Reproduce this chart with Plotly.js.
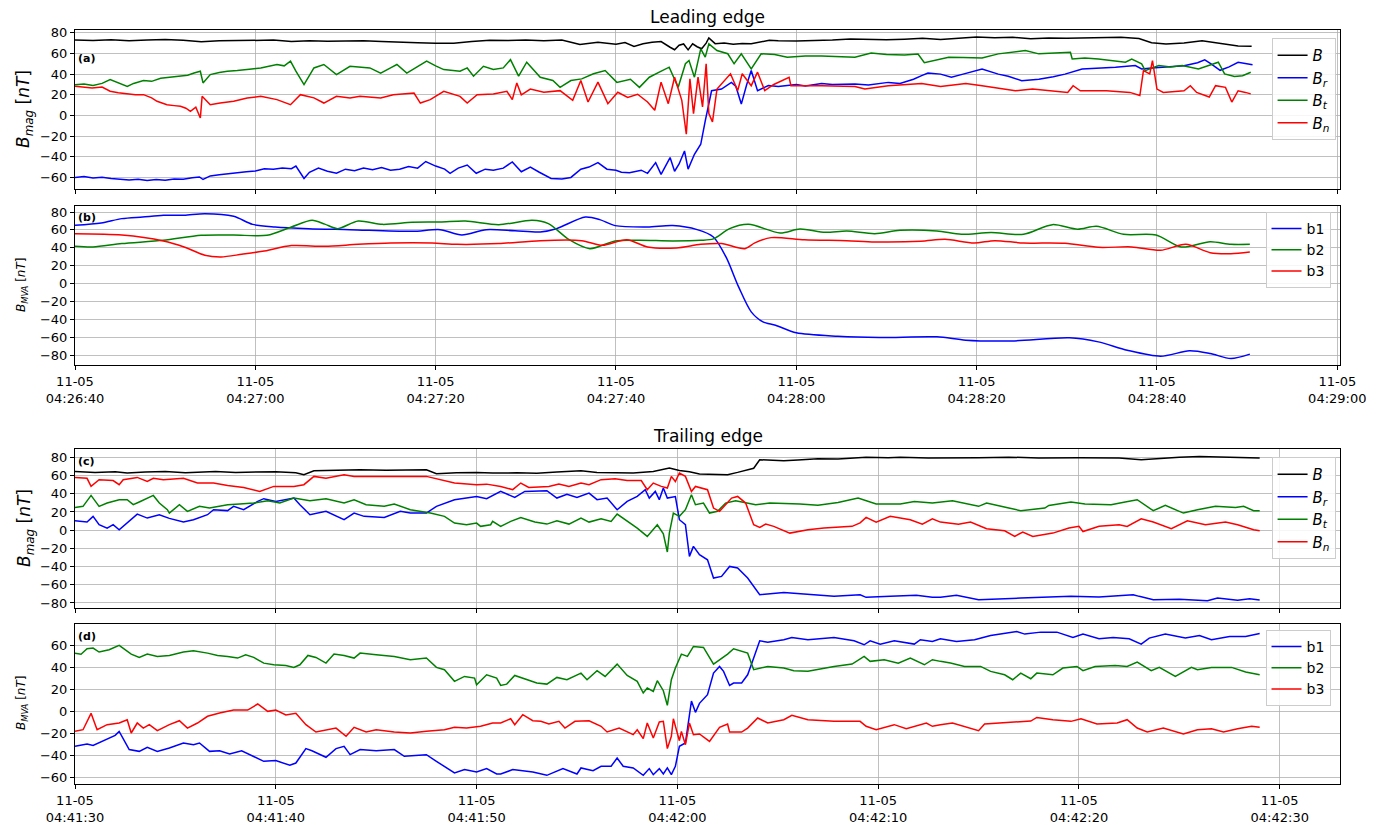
<!DOCTYPE html>
<html><head><meta charset="utf-8">
<script src="https://cdn.plot.ly/plotly-3.0.1.min.js"></script>
<style>html,body{margin:0;padding:0;background:#fff}#chart{width:1387px;height:825px}</style>
</head><body><div id="chart"></div>
<script>
// ---------- tick labels ----------
const leadTickVals = [0, 20, 40, 60, 80, 100, 120, 140];
const leadTickText = ["11-05<br>04:26:40","11-05<br>04:27:00","11-05<br>04:27:20","11-05<br>04:27:40","11-05<br>04:28:00","11-05<br>04:28:20","11-05<br>04:28:40","11-05<br>04:29:00"];
const trailTickVals = [0, 10, 20, 30, 40, 50, 60];
const trailTickText = ["11-05<br>04:41:30","11-05<br>04:41:40","11-05<br>04:41:50","11-05<br>04:42:00","11-05<br>04:42:10","11-05<br>04:42:20","11-05<br>04:42:30"];
const seriesNames = ["<i>B</i>", "<i>B<sub>r</sub></i>", "<i>B<sub>t</sub></i>", "<i>B<sub>n</sub></i>"];
const mvaNames = ["b1", "b2", "b3"];

// ---------- (a) leading edge, [seconds after 04:26:40, nT] ----------
const leadB = [[0,72.9],[2,72.5],[4,73.2],[6,72.4],[8,73.0],[10,73.4],[12,72.8],[14,71.3],[16,72.2],[18,72.6],[20,72.4],[22,72.9],[24,71.5],[26,72.2],[28,71.7],[30,71.9],[32,72.4],[34,71.6],[36,71.3],[38,70.4],[40,69.8],[42,69.9],[44,71.6],[46,72.8],[48,72.5],[50,73.1],[52,72.4],[54,73.0],[56,68.7],[58,70.8],[60,69.0],[61,70.5],[62,66.7],[63,69.3],[64,70.8],[65,71.5],[66,66.0],[66.5,63.6],[67,68.0],[67.5,69.2],[68,63.5],[68.5,69.3],[69,66.5],[69.5,64.5],[70,70.0],[70.3,75.1],[71,69.5],[72,70.1],[73,69.0],[74,69.7],[75,69.3],[76,71.0],[77,72.8],[78,72.2],[80,72.0],[82,72.6],[84,72.9],[86,74.1],[88,73.6],[90,73.2],[92,73.8],[94,74.6],[96,73.5],[98,74.8],[100,76.0],[102,75.2],[104,75.6],[106,74.2],[108,75.0],[110,74.8],[112,75.3],[114,75.5],[116,75.7],[118,74.4],[119.4,70.3],[121,69.2],[123,70.1],[125,72.3],[127,70.0],[129,67.2],[130.5,67.0]];
const leadBr = [[0,-60],[1,-59.2],[2,-60.5],[3,-59.8],[4,-61],[5,-61.5],[6,-62.5],[7,-61.8],[8,-63],[9,-62],[10,-62.8],[11,-61.5],[12,-61.8],[13,-60.2],[13.8,-59.5],[14.2,-62],[15,-58.5],[16,-57.5],[17,-56.8],[18,-55.5],[19,-54.5],[20,-53.8],[21,-51.5],[22,-52],[23,-50.8],[24,-51.5],[24.5,-49],[25.4,-61],[26,-55],[27,-51],[28,-54],[29,-56],[30,-52],[31,-53.5],[32,-51],[33,-52.5],[34,-50.5],[35,-53],[36,-52],[37,-49.5],[38,-51],[38.9,-44.6],[40,-49],[41,-52],[41.6,-56],[42.5,-51],[43.5,-48],[44.5,-56],[45.5,-52],[46.4,-53],[47.5,-51],[48.5,-45],[49.5,-54.5],[50.5,-50],[51.5,-55],[52.8,-61],[54,-61.5],[55,-60],[56.1,-52],[57,-50],[58,-45.7],[59,-52],[60,-53],[60.6,-55],[61.5,-55.5],[62.8,-53],[63.5,-56],[64.4,-45.7],[65,-57],[66,-40.8],[66.5,-54],[67,-47],[67.6,-34.4],[68,-52],[68.7,-37.6],[69.4,-27.9],[69.9,-5.2],[70.6,23.9],[71.7,25.5],[72.8,32],[73.3,28],[73.9,11],[74.5,30],[75,43.4],[75.7,24],[76.9,29],[78,28],[79,28.8],[80,30],[81,28.5],[82.8,31],[84,30],[86.5,30.5],[88,29.5],[90.2,32],[91.5,31],[93,35],[93.9,38.5],[94.6,41],[96,40],[97.2,37],[98.5,40],[100.6,45],[102.4,40],[103.5,38],[105,33.6],[106.9,35],[108.5,37.5],[109.8,40],[111.7,45],[113.5,45.5],[115.4,46.7],[117.6,48.3],[118.3,45],[119.4,46],[121,47],[123,48],[124.5,51],[125.3,53.8],[126,50],[127,43.7],[128,47],[129,51.5],[130.6,49]];
const leadBt = [[0,29.8],[1,30.5],[2,29],[3,31],[3.9,34.7],[5,31],[5.8,28],[6.5,31],[7.6,33.7],[8.5,33],[9.5,36],[10.5,37],[11.7,38],[12.5,39],[13.2,41],[13.9,42.8],[14.2,31.5],[15,39.5],[16,41.5],[16.9,42.8],[18,43.5],[18.7,44.4],[19.6,45],[20.6,46],[21.5,47.5],[22.4,49.3],[23.2,48],[23.9,52.5],[24.5,42.8],[25.4,29.8],[26.5,46],[27.6,49.3],[29,39.5],[30.5,47.6],[32.7,46],[33.9,41],[35,46],[35.7,49.3],[36.8,41],[38,47],[39,52.5],[40,48],[40.9,44.4],[42.7,42.8],[43.5,46],[44.2,38],[45.3,47.6],[46.4,44.4],[47.5,46],[48.3,54],[49.2,38],[50.1,51.5],[51.6,37],[53,33.8],[53.8,27.2],[55,33.8],[56.2,35.4],[57.5,40.3],[58.8,43.5],[60.1,32],[61.6,35],[62.6,27.2],[63.7,37],[64.8,41.9],[65.9,46.7],[66.9,27.2],[67.7,50],[68.1,53.2],[68.7,37],[69.4,64.5],[69.9,56.4],[70.3,69.3],[71.2,62.9],[72.4,59.7],[73.1,50],[73.9,59.7],[75,45.1],[76.1,59.7],[77.6,59],[79,56.4],[81,57.5],[82.8,57.5],[85,57],[86.5,56.4],[88.3,60.4],[90,59],[92,58.5],[93.5,59.5],[94.2,51],[95,52.5],[96.9,56.4],[98.5,56],[100.6,55.5],[102.4,59.6],[104,61],[105.4,62.8],[106.9,59.6],[108.5,60],[110.4,61.1],[110.6,54.7],[112,55.5],[113.5,54.7],[115,53],[116.5,51.5],[117.2,54.5],[118.3,49.9],[118.7,43.4],[120.2,48.3],[121.5,47],[122.8,48.3],[124.6,45],[125.7,48.3],[126.8,51.5],[127.5,40.2],[128.6,37.6],[129.5,38.5],[130.4,41.8]];
const leadBn = [[0,28.2],[1,27.5],[1.9,26.6],[3,27.5],[3.9,23.4],[4.8,22],[5.8,20.8],[6.7,20],[7.6,20.1],[8.5,17],[9.1,13.7],[9.8,12],[10.2,10.4],[11,9.5],[11.7,8.8],[12.3,7],[12.8,4],[13.4,8],[13.9,-2.5],[14.1,18.5],[15,10.4],[16.1,12],[17.6,13.7],[19.1,16.9],[20.6,18.5],[22.4,15.3],[23.9,10.4],[25,20.1],[26.5,17],[27.6,12],[29,18.5],[30.5,17],[31.6,18.5],[33.9,16.9],[35.3,20.1],[37.6,21.7],[38.3,12],[39.4,15.3],[40.9,23.4],[42.7,18.5],[43.5,12],[44.6,20.1],[46.4,20.8],[47.9,23.4],[48.5,15.3],[49,31.5],[49.5,20],[50.5,25.5],[52,22.4],[53.8,24],[55.2,14.6],[56.1,33.8],[56.9,13],[58,32.2],[59.1,11.4],[60.2,22.4],[61.3,17.5],[62.4,20.5],[63.5,13],[64.3,5],[65,32.2],[65.8,11.4],[66.5,37],[67.3,14.6],[67.8,-18.2],[68.2,35.4],[68.6,1.8],[69.1,37],[69.6,8.2],[70,49.9],[70.3,1.8],[70.7,-6.2],[71.2,25.5],[72.7,40.3],[73.5,24],[74,40.3],[75,28.8],[75.7,41.9],[76.5,24],[77.5,30],[79.2,37],[79.4,28.8],[82.8,28.8],[86.5,28],[87.6,25.5],[90.2,28.8],[93.9,31],[96,28],[98.8,31],[100.6,28.8],[104.3,23.9],[106.2,25.5],[110.1,22.3],[110.7,28.8],[111.5,23.9],[114.4,23.9],[117,22.3],[118.1,19.3],[118.5,43.4],[119.2,40.2],[119.5,53],[120,25.5],[120.7,22.3],[123,23.9],[123.7,28.8],[124.4,22.3],[125.8,17.8],[126.5,28.8],[127.6,27.2],[128.3,13],[129,23.9],[129.8,22.3],[130.4,20.9]];

// ---------- (b) leading edge MVA ----------
const leadB1 = [[0,65.1],[2.9,67.7],[5.2,72.6],[7.5,74.4],[9.8,76.3],[12.1,76.3],[14.4,78.1],[17.6,75.2],[19.7,66.2],[22.2,63.3],[25.9,61.4],[30.5,60.3],[37.4,58.4],[40.5,60.3],[42.9,54.3],[45.6,60.3],[48.8,59],[51.6,57.7],[53.4,61.4],[56.6,74.4],[58.2,71.5],[59.9,64.8],[63.5,63.3],[66.3,64.8],[69,60.3],[70.8,52.1],[72.2,29.8],[73.6,-3.6],[75,-31.5],[76.3,-42.7],[77.7,-46.4],[80,-54.9],[84.6,-58.7],[89.2,-60.1],[95.6,-59.4],[98.8,-63.1],[103.9,-63.9],[110.3,-60.5],[113.5,-65],[116.7,-74.3],[120.4,-81],[123.6,-75],[125.9,-78],[128.2,-83.6],[130.3,-78.7]];
const leadB2 = [[0,41.7],[2,41],[5.2,44.7],[9.8,48.4],[14,54],[17.6,54.3],[21.3,54],[24,63.3],[26.3,70.7],[27.7,66.5],[29.1,61.4],[31.4,70],[34.1,66.2],[37.4,68.5],[40.5,68.8],[43.3,70],[47,65.9],[50.7,70.7],[52.5,67],[54.8,49.1],[57.1,39.1],[59.9,47.7],[62.6,48.4],[66.3,47.7],[69.4,48.4],[70.8,50],[72.6,61.4],[74.7,66.2],[78.2,56.6],[80.4,61],[83.2,57.3],[85.6,58.8],[88.7,55.8],[91.5,59.6],[95.6,58.8],[98.3,55.1],[101.6,57],[105.2,55.1],[108.4,65.9],[111.2,60.7],[113.3,64],[116.3,55.1],[119.9,54.3],[122.7,41],[125.9,46.9],[128.2,43.9],[130.3,43.9]];
const leadB3 = [[0,55.8],[5.2,54.3],[9.8,47.7],[12.1,41],[14.4,31.7],[16.2,29.8],[18.5,32.8],[20.8,36.1],[24,42.5],[27.7,41.7],[31.4,43.9],[35,45.4],[39.6,45.4],[42.4,43.9],[47,44.7],[51.6,48],[56.2,48],[58.5,42.8],[61.2,49.1],[63.5,41],[66.7,39.9],[69.4,43.9],[71.7,44.7],[74.3,39.1],[75.4,45.5],[77.2,51.4],[80.9,49.1],[85.6,48],[88.7,46.6],[93.8,47.3],[96.5,49.5],[99.7,45.4],[102,48],[105.2,45.4],[109.8,45],[113.5,40.6],[117.2,41],[120.4,37.3],[123.2,43.9],[125.9,34.6],[128.2,33.5],[130.3,35.4]];

// ---------- (c) trailing edge, [seconds after 04:41:30, nT] ----------
const trailB = [[0,64.6],[1,63.5],[2,64.2],[2.6,62.8],[3.5,63.8],[4.5,64.4],[5.5,63.2],[6.2,63.9],[7,64.5],[8,63.5],[9.2,63.9],[10,64.2],[11,63],[11.4,61],[11.9,65.3],[13,65.6],[14.2,66.4],[15.5,65.8],[16.5,66.2],[17.5,66.4],[18,62],[19,63.2],[20,63.5],[20.8,62.8],[22,63],[23,62.5],[24,64],[25.2,65.3],[26,63.5],[27,63],[27.8,62.8],[28.8,64.5],[29.6,68.3],[30.1,65.5],[30.6,64.2],[31.1,61.7],[32,61.5],[32.5,61],[33,63.5],[33.5,66.4],[33.8,68],[34.1,77.4],[35.3,76.3],[36,77.2],[37,78.5],[38,78.2],[39.4,80],[40.5,79.5],[41.1,80],[42.5,79.4],[43.6,79.3],[45,79.5],[46.5,80.2],[48,79.4],[50,79.5],[52,79.2],[53.1,77.4],[54,79],[55,80.2],[56,81],[57,80.2],[58,79.5],[59,79.3]];
const trailBr = [[0,10.4],[0.6,9],[0.9,15.2],[1.2,6],[1.6,2.3],[1.9,6],[2.2,0.5],[2.6,7.8],[3.1,17.7],[3.6,13.3],[4.2,17],[4.7,13],[5.4,8.9],[5.9,11.5],[6.6,17],[6.9,22.5],[7.6,21.5],[7.9,26.2],[8.4,22.5],[9.1,31.6],[9.4,34.6],[10,31.6],[10.9,35.3],[11.2,28],[11.7,17],[12.5,20.7],[13.4,11.5],[13.9,18.8],[14.4,15.2],[15.4,14],[16.2,20.7],[16.7,18.8],[17.5,18.8],[18,26.2],[18.9,33.5],[20,37.1],[20.5,34.6],[21.2,42.6],[21.9,36],[22.4,42.6],[23.5,43.4],[24,35.3],[24.5,39.5],[25,36],[25.6,40.8],[26,33.5],[26.5,35.3],[27,22.5],[27.5,31.6],[28,37.1],[28.4,44.5],[28.6,35.3],[28.9,42.6],[29.1,33.5],[29.3,46.3],[29.5,35.3],[29.9,37],[30.1,11.5],[30.4,6],[30.6,-28.8],[30.8,-17.8],[31.1,-27],[31.5,-32.5],[31.8,-52.6],[32.2,-50.8],[32.6,-39.8],[33,-41.6],[33.5,-52.6],[34,-67.3],[34.1,-70.9],[35.3,-68.4],[37,-70.9],[37.8,-72.7],[39.1,-70.9],[39.4,-73.8],[40.6,-72.7],[41.9,-71.6],[42.7,-73.8],[43.1,-73.8],[43.9,-71.6],[45,-76.4],[47.1,-74.6],[49.6,-72.7],[51,-73.5],[52.7,-70.9],[53,-72.7],[53.7,-76.4],[55,-76],[56.4,-77.5],[56.9,-74.6],[57.9,-77.1],[58.5,-75.3],[59,-76.8]];
const trailBt = [[0,25],[0.4,26.2],[0.8,38.2],[1.2,26.2],[1.6,29.8],[2.2,33.5],[2.6,33.5],[2.9,28],[3.2,31],[3.7,36],[3.9,38.2],[4.2,29.8],[4.6,22.5],[4.7,18.8],[5.2,28],[5.6,20.7],[6.2,26.2],[6.7,24.3],[7.6,28],[8.2,28.8],[8.9,29.8],[9.6,32.4],[10.2,29.8],[10.9,35.3],[11.7,32.4],[12.5,34.6],[13.4,29.8],[13.9,33.5],[14.5,28],[15.4,26.2],[15.9,28.8],[16.7,22.5],[17.2,20.7],[17.7,18.8],[18.4,15.2],[18.9,7.8],[19.5,6],[20,7.8],[20.2,4.2],[20.7,6],[20.8,9.7],[21.2,4.2],[21.7,9.7],[22.2,14],[22.9,8.9],[23.5,6.7],[24,10.4],[24.6,6.7],[25.2,13.3],[25.6,8.9],[26.2,12.6],[26.7,9.7],[27,17.7],[27.5,9.7],[28,2.3],[28.5,-6.8],[28.8,0.5],[29,6],[29.3,-4],[29.5,-24],[29.6,-3.2],[29.8,18.8],[30.1,15.2],[30.4,22.5],[30.7,39],[30.9,28],[31.3,29.8],[31.6,18.8],[32,20.7],[32.4,29.8],[32.9,32.4],[33.4,29.8],[33.9,28],[34.6,29.8],[36.1,28.8],[37,27.3],[38,30.5],[39,35.3],[39.9,28.8],[41.1,28.8],[41.8,31.6],[42.7,29.8],[43.1,31],[43.7,32.4],[45,26.2],[45.4,29.8],[47.1,21.4],[48.3,24.3],[48.5,27.2],[49.6,31],[50.3,28.8],[51.6,28],[52.3,31],[52.9,33.5],[53.7,21.4],[54.3,27.2],[55.2,18.8],[55.9,22.5],[56.8,26.2],[57.8,25],[58.2,26.2],[58.7,21.4],[59,21.4]];
const trailBn = [[0,58],[0.6,57],[0.8,48.1],[1.2,55.5],[1.9,54.5],[2.2,50],[2.4,55.5],[3.1,58],[3.6,53.5],[3.9,57],[4.4,55.5],[5.4,57],[6.1,51.8],[6.9,51.8],[7.6,49.2],[8.4,47],[9.2,42.6],[9.9,48.1],[10.9,48.1],[11.4,50],[11.9,59.1],[12.5,57],[13.4,61],[13.9,59.1],[15,59.1],[16.7,59.1],[17.5,59.1],[18.9,51.8],[20,50],[20.5,50.6],[21.2,48.1],[21.8,44.5],[22.2,51.8],[22.6,47],[23.6,48.1],[24.1,50.6],[24.6,48.1],[25.2,51.8],[25.6,50],[26.2,55.5],[26.9,56.6],[27.5,54.5],[28.2,54.5],[28.5,44.5],[28.8,51.8],[29.2,48.1],[29.5,46.3],[29.7,59.1],[29.9,53.5],[30.1,62.8],[30.4,59.1],[30.7,42.6],[30.9,48.1],[31.5,44.5],[31.8,24.3],[32.1,20.7],[32.4,28],[32.7,35.3],[33,37.1],[33.4,29.8],[33.8,6],[34.1,3.1],[34.4,6.7],[34.8,4.2],[35.6,-3.2],[36.5,0.5],[37.3,2.3],[38.7,4.2],[39.1,8],[39.4,14],[39.9,8.9],[40.6,15.2],[41.6,11.5],[42.2,6.7],[42.7,12.6],[43.1,8.9],[44,6.5],[44.6,8.9],[45.4,1.6],[46.3,-0.6],[46.8,-6.8],[47.2,-2],[47.7,-6.8],[48.7,-3.2],[49.5,2.3],[50,4.2],[50.2,-1.5],[51,4.2],[52,6],[52.4,4.2],[53.1,12.6],[53.7,8.9],[54.6,1.6],[55.4,10.4],[56.3,6],[57.3,8.9],[57.9,6],[58.7,0.5],[59,-0.6]];

// ---------- (d) trailing edge MVA ----------
const trailB1 = [[0,-31.8],[0.6,-29.7],[0.9,-31],[1.4,-26.7],[1.7,-24.2],[2,-21.8],[2.2,-18.2],[2.7,-34.8],[3.2,-36.4],[3.6,-32.8],[4.1,-36.4],[4.7,-33.3],[5.4,-28.8],[5.9,-30.3],[6.2,-28.8],[6.7,-36.4],[7.2,-35.8],[7.7,-38.8],[8.3,-35.8],[8.9,-40.9],[9.4,-45.5],[10,-44.8],[10.7,-49.1],[11,-47],[11.5,-33.9],[11.8,-35.8],[12.5,-41.8],[13,-33.9],[13.4,-31.8],[13.7,-39.4],[14.2,-34.8],[15,-35.8],[15.9,-34.8],[16.4,-40.9],[17,-40],[17.5,-39.4],[18,-45.5],[18.9,-56],[19.4,-53],[20,-55.2],[20.5,-52.1],[21,-57],[21.2,-57],[21.8,-53],[22.8,-55.2],[23.5,-58.2],[24.3,-52.1],[25,-57],[25.2,-51.5],[25.8,-54],[26.2,-50],[26.7,-50],[27,-42.4],[27.3,-50],[27.8,-51.5],[28.3,-58.2],[28.6,-52.1],[28.8,-57.6],[29.1,-52.1],[29.3,-57],[29.5,-51.5],[29.7,-57.6],[29.9,-50],[30.1,-31.8],[30.4,-28.8],[30.7,9.4],[30.9,-0.9],[31.1,7.3],[31.5,15.2],[31.8,34.8],[32.1,40.9],[32.3,36.4],[32.6,23.6],[32.8,25.8],[33.2,25.8],[33.5,33.3],[33.8,48.5],[34.1,64.2],[34.5,63],[35.3,65.2],[35.7,67.3],[36.5,65.2],[37.8,67.3],[38.8,64.2],[39.3,60.6],[39.6,64.2],[40.1,61.2],[40.8,64.2],[41.8,61.2],[42.1,65.2],[42.7,63.6],[43.1,66.1],[43.9,63.6],[44.8,65.2],[45.6,69.1],[46.9,72.7],[47.3,70.3],[48.1,72.1],[48.9,72.1],[49.7,67.3],[50.2,70.3],[51,66.1],[51.7,67.3],[52.5,66.1],[53.1,61.2],[53.5,66.7],[54.3,70.3],[55.3,66.7],[56,69.1],[56.6,65.2],[57.5,68.2],[58.3,68.2],[59,70.9]];
const trailB2 = [[0,53],[0.3,52],[0.6,57],[0.9,57.6],[1.2,54],[1.7,56.1],[2.2,60],[2.6,55.2],[2.8,52.1],[3.2,49.1],[3.6,52.1],[4.1,50],[4.7,50.9],[5.4,54],[5.9,55.2],[6.6,53],[7.1,50.9],[7.6,50],[8.1,48.5],[8.5,51.5],[8.9,49.1],[9.4,43.9],[9.9,42.4],[10.5,41.8],[10.9,40],[11.2,42.4],[11.6,50.9],[12,49.1],[12.5,43.9],[12.9,52.1],[13.4,50.9],[13.9,48.5],[14.2,53],[15,51.5],[15.9,50],[16.7,47],[17.5,48.5],[18,40],[18.4,37.9],[18.9,27.3],[19.4,31.8],[19.9,30.3],[20,24.2],[20.5,33.3],[21,30.3],[21.2,23.6],[21.5,24.8],[21.9,32.7],[22.4,29.7],[23,25.8],[23.5,24.8],[24,30.9],[24.5,28.8],[25.2,34.8],[25.5,28.8],[26,37],[26.4,31.8],[27,43],[27.5,32.7],[28,27.3],[28.3,16.7],[28.5,21.2],[28.8,18.2],[29,27.9],[29.3,18.8],[29.5,5.5],[29.7,28.8],[29.9,39.4],[30.2,52.1],[30.5,50],[30.8,59.1],[31.3,58.2],[31.8,43],[32.5,52.1],[32.8,57],[33.5,53],[33.8,37.9],[34.5,40.9],[35.3,39.4],[35.8,37],[36.5,36.4],[37.8,40.9],[38.7,43],[39.3,50],[39.6,45.5],[40.3,47],[41,43.9],[41.6,48.5],[42.3,42.4],[42.7,47],[43.1,45.5],[43.6,44],[44.3,40.9],[45.1,40.9],[45.6,36.4],[46.3,33.3],[46.7,28.8],[47.1,34.8],[47.6,29.7],[47.9,34.8],[48.7,33.3],[49.2,39.4],[49.9,40.9],[50.2,37],[50.8,40.9],[51.8,41.8],[52.4,40.9],[52.9,44.8],[53.6,37],[54,40],[54.8,31.8],[55.6,40],[55.9,37.9],[56.6,40],[57.6,40],[58.3,35.8],[59,33.3]];
const trailB3 = [[0,-18.2],[0.4,-16.7],[0.8,-1.8],[1.1,-16.7],[1.6,-12.1],[2.2,-10.6],[2.6,-7.6],[2.8,-19.7],[3.1,-10.6],[3.4,-15.2],[3.7,-12.1],[4.1,-17.6],[4.7,-12.1],[5.2,-8.5],[5.6,-15.2],[6.1,-10.6],[6.6,-4.5],[7.2,-1.5],[7.9,1.2],[8.6,1.2],[9.1,6.7],[9.6,0],[10,1.2],[10.5,-3.3],[11,-1.8],[11.5,-12.1],[12,-18.8],[12.5,-16.7],[13,-15.2],[13.5,-22.7],[13.9,-14.5],[14.5,-18.8],[15,-16.7],[15.9,-18.8],[16.7,-19.7],[17.5,-18.2],[18.4,-16.7],[18.9,-14.5],[19.5,-15.2],[20.2,-13.6],[20.8,-10.6],[21.2,-10.6],[21.7,-6.7],[21.9,-12.1],[22.3,-3],[22.8,-8.5],[23.2,-9.1],[23.6,-11.5],[24.1,-9.1],[24.4,-15.2],[24.9,-9.1],[25.6,-8.5],[26.2,-13.6],[26.5,-18.8],[27.1,-15.2],[27.8,-21.2],[28,-16.7],[28.3,-24.8],[28.5,-10.6],[28.8,-24.2],[29.1,-9.7],[29.3,-9.1],[29.5,-33.9],[29.7,-22.7],[29.8,-6.7],[30.1,-26.7],[30.2,-18.2],[30.4,-30.3],[30.6,-10.6],[30.8,-21.2],[31.1,-20.6],[31.6,-27.3],[32.1,-14.5],[32.5,-11.5],[32.6,-18.8],[33.2,-18.8],[33.5,-15.2],[34,-6],[34.5,-10.6],[35.3,-7.6],[35.7,-3.6],[36.5,-7.6],[37.8,-9.1],[39.1,-9.1],[39.4,-13.6],[39.9,-16.7],[40.8,-12.1],[41.4,-15.8],[42.4,-10.6],[42.7,-13.6],[43.1,-12.1],[43.7,-10.6],[44.3,-13.6],[45,-17.6],[45.3,-11.5],[46.3,-10.6],[46.9,-9.7],[47.6,-8.8],[47.9,-5.5],[48.7,-7.6],[49.6,-9.1],[50.1,-6.7],[50.9,-11.5],[51.9,-10.6],[52.4,-7.6],[52.9,-15.2],[53.4,-18.8],[54.2,-15.2],[55.2,-20.6],[55.9,-16.7],[56.6,-15.8],[57.2,-18.8],[57.9,-15.8],[58.6,-13.6],[59,-14.5]];

// ---------- build ----------
const COLORS = ["#000000", "#0000ff", "#008000", "#ff0000"];
const MVACOLORS = ["#0000ff", "#008000", "#ff0000"];
function tr(data, name, color, xa, ya, leg, spline) {
  return {
    x: data.map(p => p[0]), y: data.map(p => p[1]),
    type: "scatter", mode: "lines", name: name,
    line: {color: color, width: 1.5, shape: spline ? "spline" : "linear", smoothing: 0.8},
    xaxis: xa, yaxis: ya, legend: leg, hoverinfo: "skip"
  };
}
const traces = [
  tr(leadB, seriesNames[0], COLORS[0], "x", "y", "legend"),
  tr(leadBr, seriesNames[1], COLORS[1], "x", "y", "legend"),
  tr(leadBt, seriesNames[2], COLORS[2], "x", "y", "legend"),
  tr(leadBn, seriesNames[3], COLORS[3], "x", "y", "legend"),
  tr(leadB1, mvaNames[0], MVACOLORS[0], "x2", "y2", "legend2", true),
  tr(leadB2, mvaNames[1], MVACOLORS[1], "x2", "y2", "legend2", true),
  tr(leadB3, mvaNames[2], MVACOLORS[2], "x2", "y2", "legend2", true),
  tr(trailB, seriesNames[0], COLORS[0], "x3", "y3", "legend3"),
  tr(trailBr, seriesNames[1], COLORS[1], "x3", "y3", "legend3"),
  tr(trailBt, seriesNames[2], COLORS[2], "x3", "y3", "legend3"),
  tr(trailBn, seriesNames[3], COLORS[3], "x3", "y3", "legend3"),
  tr(trailB1, mvaNames[0], MVACOLORS[0], "x4", "y4", "legend4"),
  tr(trailB2, mvaNames[1], MVACOLORS[1], "x4", "y4", "legend4"),
  tr(trailB3, mvaNames[2], MVACOLORS[2], "x4", "y4", "legend4")
];

const FONT = "DejaVu Sans, sans-serif";
const H = 754, TOP = 30;
function py(pix) { return (784 - pix) / H; }
function xax(range, vals, text, showLabels, anchor) {
  return {
    range: range, tickvals: vals, ticktext: text, showticklabels: showLabels,
    ticks: "outside", ticklen: 4, tickwidth: 1, tickcolor: "#000",
    showline: true, mirror: true, linecolor: "#000", linewidth: 1,
    showgrid: true, gridcolor: "#b0b0b0", gridwidth: 0.8, zeroline: false,
    tickfont: {family: FONT, size: 13, color: "#000"}, anchor: anchor, domain: [0, 1]
  };
}
function yax(range, dtick, dom, anchor) {
  return {
    range: range, dtick: dtick, tick0: 0, domain: dom, anchor: anchor,
    ticks: "outside", ticklen: 4, tickwidth: 1, tickcolor: "#000",
    showline: true, mirror: true, linecolor: "#000", linewidth: 1,
    showgrid: true, gridcolor: "#b0b0b0", gridwidth: 0.8, zeroline: false,
    tickfont: {family: FONT, size: 13, color: "#000"}
  };
}
function leg(xr, ytop, fs) {
  return {x: xr, y: ytop, xanchor: "right", yanchor: "top", bgcolor: "rgba(255,255,255,0.85)",
    bordercolor: "#cccccc", borderwidth: 1, font: {family: FONT, size: fs, color: "#000"},
    itemwidth: 30, tracegroupgap: 0};
}
const ann = (text, x, y, size, extra) => Object.assign({text: text, x: x, y: y, xref: "paper", yref: "paper",
  showarrow: false, font: {family: FONT, size: size, color: "#000"}}, extra || {});

const layout = {
  width: 1387, height: 825, margin: {l: 75, r: 47, t: TOP, b: 41},
  paper_bgcolor: "#fff", plot_bgcolor: "#fff", showlegend: true,
  xaxis: xax([0, 140.3], leadTickVals, leadTickText, false, "y"),
  yaxis: yax([-71.2, 82.7], 20, [py(189), 1], "x"),
  xaxis2: xax([0, 140.3], leadTickVals, leadTickText, true, "y2"),
  yaxis2: yax([-90.8, 86.7], 20, [py(365), py(206)], "x2"),
  xaxis3: xax([0, 63.0], trailTickVals, trailTickText, false, "y3"),
  yaxis3: yax([-85.5, 89.2], 20, [py(608), py(449)], "x3"),
  xaxis4: xax([0, 63.0], trailTickVals, trailTickText, true, "y4"),
  yaxis4: yax([-66.1, 79.5], 20, [0, py(624)], "x4"),
  legend: leg(0.9965, py(38), 15),
  legend2: leg(0.9925, py(212), 14),
  legend3: leg(0.9965, py(457), 15),
  legend4: leg(0.9925, py(630), 14),
  annotations: [
    ann("Leading edge", 0.5, py(17), 17, {yanchor: "middle"}),
    ann("Trailing edge", 0.5, py(436), 17, {yanchor: "middle"}),
    ann("<b>(a)</b>", 0.001, py(58), 11, {xanchor: "left", yanchor: "middle"}),
    ann("<b>(b)</b>", 0.001, py(217), 11, {xanchor: "left", yanchor: "middle"}),
    ann("<b>(c)</b>", 0.001, py(461), 11, {xanchor: "left", yanchor: "middle"}),
    ann("<b>(d)</b>", 0.001, py(636), 11, {xanchor: "left", yanchor: "middle"}),
    ann("<i>B<sub>mag</sub></i> [<i>nT</i>]", (25 - 75) / 1265, py(109), 17, {textangle: -90, xanchor: "center", yanchor: "middle"}),
    ann("<i>B<sub>MVA</sub></i> [<i>nT</i>]", (22 - 75) / 1265, py(285), 12, {textangle: -90, xanchor: "center", yanchor: "middle"}),
    ann("<i>B<sub>mag</sub></i> [<i>nT</i>]", (25 - 75) / 1265, py(528), 17, {textangle: -90, xanchor: "center", yanchor: "middle"}),
    ann("<i>B<sub>MVA</sub></i> [<i>nT</i>]", (22 - 75) / 1265, py(703), 12, {textangle: -90, xanchor: "center", yanchor: "middle"})
  ]
};
Plotly.newPlot("chart", traces, layout, {staticPlot: true, displayModeBar: false});
</script></body></html>
